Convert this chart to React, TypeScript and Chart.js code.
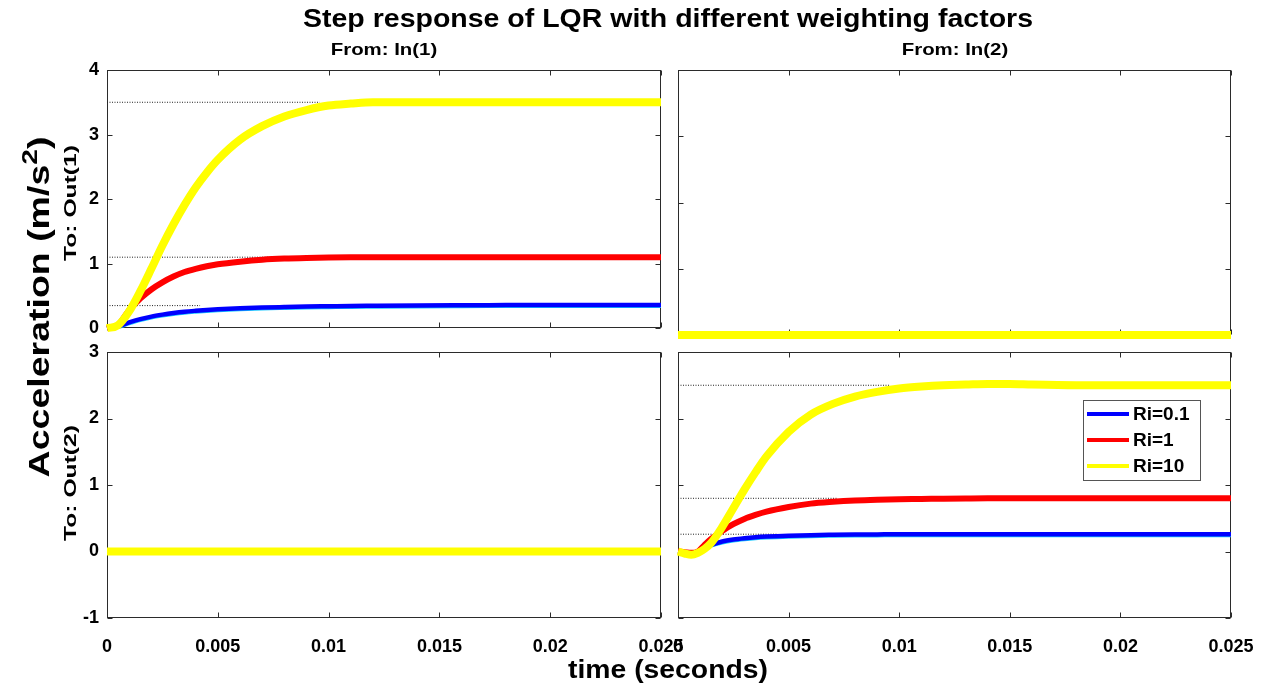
import React, { useEffect, useRef } from 'react';
import { Chart, registerables } from 'chart.js';
Chart.register(...registerables);

const FONT = '"Liberation Sans", Arial, Helvetica, sans-serif';

// ---- series meta ----
const seriesLabels = ['Ri=0.1', 'Ri=1', 'Ri=10'];
const seriesColors = ['#0000ff', '#ff0000', '#ffff00'];
const shadeColor = '#18c8ff';

// ---- ticks ----
const xTickValues = [0, 0.005, 0.01, 0.015, 0.02, 0.025];
const xTickLabels = ['0', '0.005', '0.01', '0.015', '0.02', '0.025'];
const yTicksOut1 = [0, 1, 2, 3, 4];
const yTicksOut2 = [-1, 0, 1, 2, 3];

// ---- From In(1) to Out(1) ----
const t11 = [0, 0.0005, 0.001, 0.0015, 0.002, 0.0025, 0.003, 0.0035, 0.004, 0.0045, 0.005, 0.006, 0.007, 0.008, 0.009, 0.010, 0.011, 0.012, 0.014, 0.016, 0.018, 0.020, 0.022, 0.025];
const blue11 = [0, 0.03, 0.09, 0.14, 0.18, 0.21, 0.235, 0.255, 0.27, 0.283, 0.293, 0.308, 0.32, 0.328, 0.335, 0.34, 0.345, 0.348, 0.353, 0.356, 0.358, 0.36, 0.36, 0.36];
const shade11 = [0, 0.02, 0.075, 0.125, 0.165, 0.195, 0.22, 0.24, 0.255, 0.268, 0.278, 0.293, 0.305, 0.313, 0.32, 0.325, 0.33, 0.333, 0.338, 0.341, 0.343, 0.345, 0.345, 0.345];
const red11 = [0, 0.05, 0.28, 0.46, 0.6, 0.71, 0.8, 0.87, 0.92, 0.96, 0.99, 1.03, 1.06, 1.078, 1.088, 1.094, 1.098, 1.1, 1.1, 1.1, 1.1, 1.1, 1.1, 1.1];
const yellow11 = [0, 0.045, 0.26, 0.57, 0.92, 1.28, 1.61, 1.91, 2.18, 2.41, 2.61, 2.92, 3.13, 3.28, 3.38, 3.45, 3.48, 3.5, 3.5, 3.5, 3.5, 3.5, 3.5, 3.5];
const ssT11 = [0.0042, 0.0075, 0.0096];
const ssY11 = [0.35, 1.1, 3.5];

// ---- From In(2) to Out(1) and From In(1) to Out(2): zero ----
const tZero = [0, 0.025];
const zeroVals = [0, 0];

// ---- From In(2) to Out(2) ----
const t22 = [0, 0.0003, 0.0006, 0.0009, 0.0012, 0.0015, 0.002, 0.0025, 0.003, 0.0035, 0.004, 0.005, 0.006, 0.007, 0.008, 0.009, 0.010, 0.011, 0.012, 0.013, 0.014, 0.015, 0.016, 0.018, 0.020, 0.022, 0.025];
const blue22 = [0, -0.01, -0.015, 0.0, 0.06, 0.1, 0.15, 0.18, 0.2, 0.215, 0.225, 0.238, 0.246, 0.251, 0.255, 0.257, 0.259, 0.26, 0.26, 0.26, 0.26, 0.26, 0.26, 0.26, 0.26, 0.26, 0.26];
const shade22 = [0, -0.01, -0.015, -0.005, 0.05, 0.09, 0.135, 0.165, 0.185, 0.2, 0.21, 0.223, 0.231, 0.236, 0.24, 0.242, 0.244, 0.245, 0.245, 0.245, 0.245, 0.245, 0.245, 0.245, 0.245, 0.245, 0.245];
const red22 = [0, -0.01, -0.02, 0.0, 0.1, 0.19, 0.31, 0.41, 0.49, 0.55, 0.6, 0.67, 0.72, 0.747, 0.766, 0.778, 0.786, 0.79, 0.795, 0.798, 0.8, 0.8, 0.8, 0.8, 0.8, 0.8, 0.8];
const yellow22 = [0, -0.03, -0.05, -0.02, 0.04, 0.13, 0.37, 0.65, 0.93, 1.19, 1.43, 1.8, 2.06, 2.22, 2.33, 2.4, 2.45, 2.48, 2.5, 2.51, 2.52, 2.52, 2.51, 2.5, 2.5, 2.5, 2.5];
const ssT22 = [0.0045, 0.0072, 0.0096];
const ssY22 = [0.26, 0.8, 2.5];

const pts = (t: number[], v: number[]) => t.map((x, i) => ({ x, y: v[i] }));

function curveSets(t: number[], blue: number[], shade: number[] | null, red: number[], yellow: number[], ssT: number[] | null, ssY: number[] | null) {
  const sets: any[] = [];
  const base = { pointRadius: 0, fill: false, cubicInterpolationMode: 'monotone', clip: 8 };
  sets.push({ ...base, label: seriesLabels[2], data: pts(t, yellow), borderColor: seriesColors[2], borderWidth: 8, order: 0 });
  sets.push({ ...base, label: seriesLabels[1], data: pts(t, red), borderColor: seriesColors[1], borderWidth: 6, order: 1 });
  sets.push({ ...base, label: seriesLabels[0], data: pts(t, blue), borderColor: seriesColors[0], borderWidth: 4.5, order: 2 });
  if (shade) sets.push({ ...base, label: 'shade', data: pts(t, shade), borderColor: shadeColor, borderWidth: 4, order: 3 });
  if (ssT && ssY) {
    ssT.forEach((te, i) => {
      sets.push({ label: 'ss', data: [{ x: 0, y: ssY[i] }, { x: te, y: ssY[i] }], borderColor: '#222', borderWidth: 1, borderDash: [1, 1.5], pointRadius: 0, order: 10 });
    });
  }
  return sets;
}

const framePlugin = {
  id: 'matlabFrame',
  beforeDatasetsDraw(chart: any) {
    const { ctx, chartArea: a, scales } = chart;
    ctx.save();
    ctx.strokeStyle = '#2b2b2b';
    ctx.lineWidth = 1;
    const l = Math.round(a.left) + 0.5, r = Math.round(a.right) - 0.5, tp = Math.round(a.top) + 0.5, b = Math.round(a.bottom) - 0.5;
    ctx.strokeRect(l, tp, r - l, b - tp);
    const TL = 5;
    ctx.beginPath();
    scales.x.ticks.forEach((tk: any) => {
      const px = Math.round(scales.x.getPixelForValue(tk.value)) + 0.5;
      ctx.moveTo(px, b); ctx.lineTo(px, b - TL);
      ctx.moveTo(px, tp); ctx.lineTo(px, tp + TL);
    });
    scales.y.ticks.forEach((tk: any) => {
      const py = Math.round(scales.y.getPixelForValue(tk.value)) + 0.5;
      ctx.moveTo(l, py); ctx.lineTo(l + TL, py);
      ctx.moveTo(r, py); ctx.lineTo(r - TL, py);
    });
    ctx.stroke();
    ctx.restore();
  },
};

const legendPlugin = {
  id: 'matlabLegend',
  afterDraw(chart: any) {
    const { ctx, chartArea: a } = chart;
    const right = a.right - 31, top = a.top + 48, w = 117, h = 80;
    const left = right - w;
    ctx.save();
    ctx.fillStyle = '#ffffff';
    ctx.fillRect(left, top, w, h);
    ctx.strokeStyle = '#555';
    ctx.lineWidth = 1;
    ctx.strokeRect(Math.round(left) + 0.5, Math.round(top) + 0.5, w, h);
    ctx.font = `bold 19px ${FONT}`;
    ctx.textBaseline = 'middle';
    ctx.fillStyle = '#000';
    seriesLabels.forEach((lab, i) => {
      const y = top + 14 + i * 26;
      ctx.strokeStyle = seriesColors[i];
      ctx.lineWidth = 4;
      ctx.beginPath();
      ctx.moveTo(left + 4, y);
      ctx.lineTo(left + 46, y);
      ctx.stroke();
      ctx.fillText(lab, left + 50, y + 1);
    });
    ctx.restore();
  },
};

type Panel = {
  left: number; top: number; w: number; h: number;
  L: number; T: number; R: number; B: number;
  yTicks: number[]; showX: boolean; showY: boolean;
  datasets: any[]; legend?: boolean;
};

function ChartPanel({ p }: { p: Panel }) {
  const ref = useRef<HTMLCanvasElement>(null);
  useEffect(() => {
    if (!ref.current) return;
    const tickFont = { family: FONT, size: 18, weight: 'bold' as const };
    const chart = new Chart(ref.current, {
      type: 'line',
      data: { datasets: p.datasets },
      options: {
        animation: false,
        responsive: false,
        layout: { padding: { top: p.T, right: p.R, left: 0, bottom: 0 } },
        plugins: { legend: { display: false }, tooltip: { enabled: false }, title: { display: false } },
        scales: {
          x: {
            type: 'linear', min: 0, max: 0.025,
            afterBuildTicks: (s: any) => { s.ticks = xTickValues.map((v) => ({ value: v })); },
            afterFit: (s: any) => { s.height = p.B; },
            grid: { display: false, drawTicks: false },
            border: { display: false },
            ticks: { display: p.showX, font: tickFont, color: '#000', padding: 18, maxRotation: 0, autoSkip: false,
              callback: (_v: any, i: number) => xTickLabels[i] },
          },
          y: {
            type: 'linear', min: p.yTicks[0], max: p.yTicks[p.yTicks.length - 1],
            afterBuildTicks: (s: any) => { s.ticks = p.yTicks.map((v) => ({ value: v })); },
            afterFit: (s: any) => { s.width = p.L; },
            grid: { display: false, drawTicks: false },
            border: { display: false },
            ticks: { display: p.showY, font: tickFont, color: '#000', padding: 8, autoSkip: false,
              callback: (_v: any, i: number) => String(p.yTicks[i]) },
          },
        },
      },
      plugins: p.legend ? [framePlugin, legendPlugin] : [framePlugin],
    } as any);
    return () => chart.destroy();
  }, []);
  return (
    <canvas ref={ref} width={p.w} height={p.h}
      style={{ position: 'absolute', left: p.left, top: p.top, width: p.w, height: p.h }} />
  );
}

function Label({ x, y, fs, rot = 0, sx = 1, children }: any) {
  return (
    <div style={{
      position: 'absolute', left: x, top: y, fontFamily: FONT, fontWeight: 'bold', fontSize: fs,
      lineHeight: 1, whiteSpace: 'nowrap', color: '#000',
      transform: `translate(-50%, -50%) rotate(${rot}deg) scale(${sx}, 1)`,
    }}>{children}</div>
  );
}

export default function App() {
  const panels: Panel[] = [
    { left: 0, top: 30, w: 691, h: 317, L: 107, T: 40, R: 30, B: 12, yTicks: yTicksOut1, showX: false, showY: true,
      datasets: curveSets(t11, blue11, shade11, red11, yellow11, ssT11, ssY11) },
    { left: 658, top: 30, w: 603, h: 317, L: 20, T: 40, R: 30, B: 12, yTicks: yTicksOut1, showX: false, showY: false,
      datasets: curveSets(tZero, zeroVals, null, zeroVals, zeroVals, null, null) },
    { left: 0, top: 332, w: 711, h: 330, L: 107, T: 20, R: 50, B: 44, yTicks: yTicksOut2, showX: true, showY: true,
      datasets: curveSets(tZero, zeroVals, null, zeroVals, zeroVals, null, null) },
    { left: 643, top: 332, w: 640, h: 330, L: 35, T: 20, R: 52, B: 44, yTicks: yTicksOut2, showX: true, showY: false,
      datasets: curveSets(t22, blue22, shade22, red22, yellow22, ssT22, ssY22), legend: true },
  ];
  return (
    <div style={{ position: 'absolute', left: 0, top: 0, width: 1270, height: 691, background: '#fff', overflow: 'hidden' }}>
      {panels.map((p, i) => <ChartPanel key={i} p={p} />)}
      <Label x={668} y={18} fs={25} sx={1.14}>Step response of LQR with different weighting factors</Label>
      <Label x={384} y={49} fs={17} sx={1.2}>From: In(1)</Label>
      <Label x={954.5} y={49} fs={17} sx={1.2}>From: In(2)</Label>
      <Label x={668} y={669} fs={26} sx={1.09}>time (seconds)</Label>
      <Label x={39} y={307} fs={30} rot={-90} sx={1.25}>Acceleration (m/s<sup style={{ fontSize: '0.75em', verticalAlign: '0.55em', lineHeight: 0 }}>2</sup>)</Label>
      <Label x={70} y={203} fs={17} rot={-90} sx={1.45}>To: Out(1)</Label>
      <Label x={70} y={483} fs={17} rot={-90} sx={1.45}>To: Out(2)</Label>
    </div>
  );
}
